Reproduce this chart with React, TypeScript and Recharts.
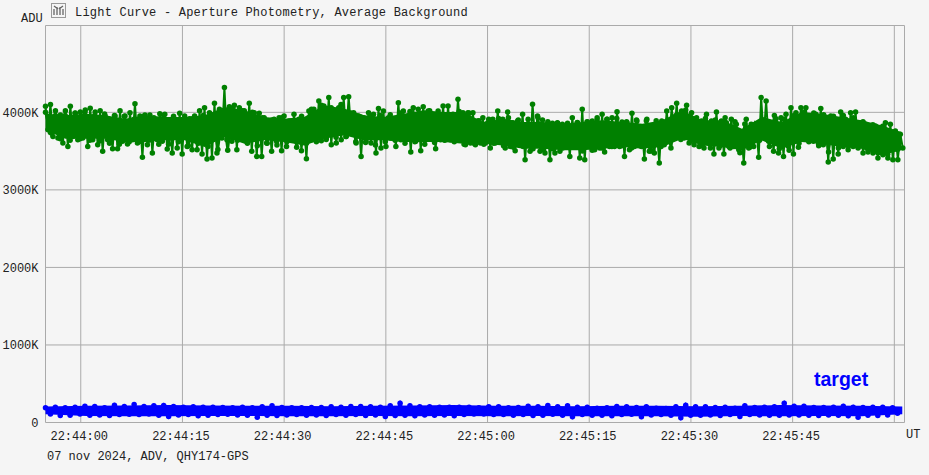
import React from 'react';
import { ComposedChart, Line, Area, XAxis, YAxis, CartesianGrid } from 'recharts';

// seconds after 22:44:00
const timeTicks = [-5.2, 0, 15, 30, 45, 60, 75, 90, 105, 120, 121.5];
const timeLabels = ['', '22:44:00', '22:44:15', '22:44:30', '22:44:45', '22:45:00', '22:45:15', '22:45:30', '22:45:45', '', ''];
const aduTicks = [0, 1000, 2000, 3000, 4000, 5120];
const aduLabels = ['0', '1000K', '2000K', '3000K', '4000K', ''];

// upper and lower edge of the comparison star band, read every 5 px
const greenHigh = [
  4080, 4100, 4020, 3966, 4020, 4080, 3987, 4005, 4030, 4052, 4005, 4020, 3953, 3867, 3953, 4020, 3953, 3996, 4112, 3953, 3966, 3966,
  3901, 3983, 3975, 3888, 3910, 3987, 3953, 3918, 3953, 4020, 4060, 3996, 4116, 4039, 4320, 4073, 4090, 4060, 4020, 4116, 3996,
  3987, 3931, 3888, 3910, 3931, 3953, 3888, 3975, 3910, 3867, 4017, 4039, 4146, 4082, 4190, 3996, 4060, 4190, 4202, 3996, 3953, 3931,
  3996, 3975, 4048, 4017, 3931, 3910, 4125, 4017, 3953, 4060, 4039, 4073, 4017, 3867, 4017, 4082, 4082, 3975, 4168, 3996, 3996, 3996,
  3888, 3931, 3867, 3910, 4017, 3910, 4005, 3867, 3888, 3975, 3845, 4103, 3953, 3901, 3845, 3858, 3867, 3845, 3824, 3931, 3867, 4039,
  3875, 3888, 3931, 3975, 3910, 3931, 4009, 3875, 3867, 3987, 3888, 3802, 3910, 3781, 3760, 3888, 4017, 4060, 4116, 4017, 4090, 3996,
  3931, 3888, 3975, 3888, 4005, 3888, 3867, 3910, 3845, 3738, 3910, 3845, 3845, 4190, 4146, 3824, 3918, 3931, 3975, 4060, 3996, 4060,
  4060, 3910, 3975, 4048, 3867, 3953, 3824, 4005, 3910, 3996, 4005, 3867, 3845, 3802, 3824, 3760, 3867, 3845, 3760, 3717,
];
const greenLow = [
  3776, 3690, 3669, 3605, 3561, 3690, 3647, 3669, 3561, 3647, 3583, 3497, 3647, 3531, 3531, 3626, 3592, 3647, 3605, 3420, 3583, 3475,
  3647, 3626, 3527, 3475, 3540, 3463, 3561, 3518, 3518, 3463, 3398, 3411, 3475, 3669, 3647, 3626, 3518, 3669, 3626, 3497, 3432,
  3432, 3605, 3497, 3626, 3506, 3561, 3647, 3626, 3506, 3402, 3647, 3669, 3635, 3669, 3583, 3605, 3647, 3690, 3755, 3605, 3432, 3626,
  3605, 3475, 3540, 3561, 3669, 3561, 3647, 3647, 3488, 3626, 3506, 3647, 3690, 3531, 3647, 3647, 3647, 3669, 3690, 3583, 3605, 3583,
  3605, 3605, 3540, 3605, 3626, 3540, 3561, 3506, 3583, 3390, 3497, 3669, 3497, 3475, 3390, 3475, 3497, 3561, 3432, 3583, 3411, 3390,
  3561, 3518, 3540, 3488, 3561, 3561, 3561, 3432, 3518, 3561, 3583, 3398, 3497, 3475, 3347, 3583, 3669, 3669, 3690, 3669, 3605, 3583,
  3561, 3540, 3605, 3463, 3540, 3463, 3561, 3561, 3518, 3347, 3540, 3561, 3420, 3669, 3626, 3497, 3475, 3432, 3561, 3463, 3549, 3669,
  3647, 3626, 3605, 3583, 3359, 3398, 3463, 3561, 3518, 3561, 3561, 3475, 3488, 3475, 3411, 3454, 3411, 3390, 3390, 3540,
];

// bumpy shoulders just inside those edges, read every 10 px
const greenUpper = [
  4000, 3960, 3960, 3990, 4000, 3960, 3980, 3960, 3950, 3910, 3950, 3930, 3960, 3950, 3910, 3920, 3960, 3940, 3990, 4040, 4020, 4000,
  3930, 3900, 3930, 3890, 3950, 4040, 4090, 4060, 4100, 3990, 3940, 3950, 3960, 3970, 3990, 4010, 3980, 4020, 3960, 3970, 4010, 3990,
  3890, 3910, 3920, 3930, 3900, 3910, 3930, 3880, 3860, 3860, 3870, 3880, 3900, 3910, 3920, 3880, 3900, 3890, 3890, 3860, 3960, 4030,
  3910, 3920, 3900, 3930, 3880, 3850, 3840, 3900, 3960, 3910, 3960, 4000, 3990, 3970, 3950, 3960, 3930, 3880, 3840, 3820, 3740,
];
const greenLower = [
  3740, 3660, 3640, 3660, 3640, 3630, 3600, 3590, 3620, 3620, 3640, 3590, 3590, 3620, 3570, 3600, 3560, 3520, 3510, 3640, 3600, 3570,
  3600, 3580, 3620, 3550, 3600, 3620, 3650, 3680, 3690, 3620, 3610, 3580, 3620, 3640, 3600, 3620, 3590, 3610, 3640, 3620, 3590, 3600,
  3590, 3600, 3570, 3550, 3560, 3530, 3520, 3530, 3540, 3550, 3500, 3510, 3540, 3560, 3570, 3540, 3560, 3500, 3560, 3540, 3650, 3630,
  3570, 3540, 3570, 3540, 3480, 3550, 3640, 3560, 3530, 3510, 3600, 3620, 3570, 3490, 3540, 3570, 3540, 3520, 3480, 3460, 3520,
];

// solid middle of the same band, read every 20 px
const greenBodyHigh = [
  3983, 3962, 3983, 3962, 3918, 3962, 3940, 3940, 3962, 4069, 4026,
  3940, 3918, 3940, 4090, 4048, 3962, 3940, 3983, 4026, 4005, 4005,
  3875, 3918, 3875, 3875, 3854, 3875, 3897, 3875, 3854, 3897, 4026,
  3897, 3897, 3790, 3940, 3875, 4005, 3983, 3940, 3897, 3833, 3747,
];
const greenBodyLow = [
  3768, 3660, 3660, 3660, 3617, 3617, 3639, 3639, 3553, 3682, 3596,
  3639, 3617, 3574, 3660, 3703, 3639, 3639, 3617, 3617, 3617, 3596,
  3596, 3574, 3531, 3531, 3510, 3510, 3531, 3553, 3531, 3553, 3660,
  3574, 3553, 3510, 3639, 3531, 3617, 3596, 3553, 3531, 3445, 3510,
];

// upper and lower edge of the target band, read every 10 px
const blueHigh = [
  189, 198, 189, 198, 210, 206, 189, 223, 206, 232, 206, 215, 219, 206, 198, 202, 198, 198, 193, 189, 198, 189,
  202, 215, 193, 189, 189, 193, 193, 202, 198, 206, 206, 202, 198, 215, 249, 215, 202, 202, 198, 198, 198, 198,
  189, 202, 202, 189, 193, 210, 202, 219, 202, 215, 198, 198, 185, 189, 206, 202, 193, 202, 185, 180, 202, 223,
  202, 202, 193, 198, 185, 215, 193, 198, 202, 249, 210, 210, 193, 193, 198, 210, 198, 193, 198, 198, 189,
];
const blueLow = [
  111, 90, 94, 111, 94, 98, 90, 103, 107, 103, 111, 94, 77, 98, 103, 86, 94, 103, 107, 98, 94, 68,
  94, 90, 98, 103, 94, 98, 90, 103, 94, 103, 90, 98, 77, 90, 94, 86, 98, 94, 98, 86, 103, 111,
  111, 103, 103, 94, 103, 90, 94, 107, 94, 73, 103, 94, 94, 86, 103, 107, 73, 98, 103, 94, 60, 94,
  94, 98, 90, 103, 77, 103, 98, 94, 94, 98, 98, 94, 90, 98, 94, 86, 68, 94, 90, 98, 120,
];

// solid middle of the target band, read every 40 px
const blueBodyHigh = [205, 215, 220, 225, 220, 215, 215, 210, 215, 220, 225, 215, 215, 210, 215, 215, 210, 215, 225, 220, 215, 205];
const blueBodyLow = [105, 85, 80, 80, 85, 85, 80, 80, 85, 80, 85, 80, 85, 80, 80, 80, 75, 85, 80, 85, 80, 105];

const leftSec = timeTicks[0];
const pxToSec = (px: number) => px / 6.78;

const zigzag = (high: number[], low: number[], stepPx: number) =>
  high.flatMap((h, i) => [
    { t: leftSec + pxToSec(i * stepPx), v: h },
    { t: leftSec + pxToSec((i + 0.5) * stepPx), v: low[i] },
  ]);

const body = (high: number[], low: number[], stepPx: number) =>
  high.map((h, i) => ({ t: leftSec + pxToSec(i * stepPx), range: [low[i], h] }));

const greenPoints = zigzag(greenHigh, greenLow, 4.97);
const greenShoulders = zigzag(greenUpper, greenLower, 9.85);
const bluePoints = zigzag(blueHigh, blueLow, 9.85);
const greenBody = body(greenBodyHigh, greenBodyLow, 19.9);
const blueBody = body(blueBodyHigh, blueBodyLow, 40.8);

const mono = '"Liberation Mono", monospace';
const labelStyle: React.CSSProperties = {
  position: 'absolute',
  fontFamily: mono,
  fontSize: 12,
  lineHeight: '14px',
  color: '#222',
  whiteSpace: 'pre',
};

const App = () => (
  <div style={{ position: 'absolute', left: 0, top: 0, width: 929, height: 475, background: '#f5f5f5', overflow: 'hidden' }}>
    <ComposedChart width={929} height={475} margin={{ top: 25.5, right: 24.5, bottom: 0, left: 0 }}>
      <CartesianGrid stroke="#aaaaaa" strokeWidth={1} />
      <XAxis
        dataKey="t"
        type="number"
        domain={[timeTicks[0], timeTicks[timeTicks.length - 1]]}
        ticks={timeTicks}
        tickFormatter={(t) => timeLabels[timeTicks.indexOf(t)]}
        tick={{ fontFamily: mono, fontSize: 12, fill: '#222', dx: -1.5 }}
        axisLine={false}
        tickLine={false}
        interval={0}
        tickMargin={3}
        height={52.5}
      />
      <YAxis
        type="number"
        domain={[0, 5120]}
        ticks={aduTicks}
        tickFormatter={(v) => aduLabels[aduTicks.indexOf(v)]}
        tick={{ fontFamily: mono, fontSize: 12, fill: '#222' }}
        axisLine={false}
        tickLine={false}
        interval={0}
        tickMargin={1}
        width={45.5}
      />
      <Area data={greenBody} dataKey="range" stroke="none" fill="#008000" fillOpacity={1} dot={false} activeDot={false} isAnimationActive={false} />
      <Area data={blueBody} dataKey="range" stroke="none" fill="#0000ff" fillOpacity={1} dot={false} activeDot={false} isAnimationActive={false} />
      <Line
        data={greenShoulders}
        dataKey="v"
        stroke="#008000"
        strokeWidth={2.5}
        dot={{ r: 2.75, fill: '#008000', stroke: 'none' }}
        isAnimationActive={false}
      />
      <Line
        data={greenPoints}
        dataKey="v"
        stroke="#008000"
        strokeWidth={2}
        dot={{ r: 2.75, fill: '#008000', stroke: 'none' }}
        isAnimationActive={false}
      />
      <Line
        data={bluePoints}
        dataKey="v"
        stroke="#0000ff"
        strokeWidth={2.5}
        dot={{ r: 2.75, fill: '#0000ff', stroke: 'none' }}
        isAnimationActive={false}
      />
    </ComposedChart>

    <svg width={16} height={16} style={{ position: 'absolute', left: 51, top: 3 }}>
      <rect x={0.5} y={0.5} width={14} height={14} fill="#f5f5f5" stroke="#999" />
      <path d="M3 6v6M6 4v8M9 4v8M12 6v6M3 3l4 3M12 3l-4 3" stroke="#666" strokeWidth={1.3} fill="none" />
    </svg>
    <div style={{ ...labelStyle, left: 75, top: 6, letterSpacing: 0.21 }}>Light Curve - Aperture Photometry, Average Background</div>
    <div style={{ ...labelStyle, left: 21, top: 12 }}>ADU</div>
    <div style={{ ...labelStyle, left: 906, top: 428 }}>UT</div>
    <div style={{ ...labelStyle, left: 47, top: 450 }}>07 nov 2024, ADV, QHY174-GPS</div>
    <div
      style={{
        position: 'absolute',
        left: 814,
        top: 368,
        fontFamily: '"Liberation Sans", Arial, sans-serif',
        fontWeight: 700,
        fontSize: 19.5,
        lineHeight: '22px',
        color: '#0000ff',
      }}
    >
      target
    </div>
  </div>
);

export default App;
